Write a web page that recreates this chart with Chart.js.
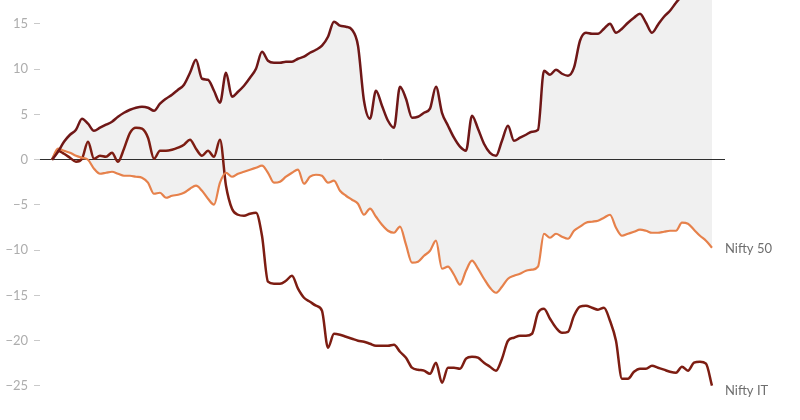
<!DOCTYPE html>
<html>
<head>
<meta charset="utf-8">
<script src="https://cdn.jsdelivr.net/npm/chart.js@4.4.1/dist/chart.umd.min.js"></script>
<style>
  html, body { margin: 0; padding: 0; background: #fff; }
  #wrap { width: 800px; height: 420px; position: relative; }
</style>
</head>
<body>
<div id="wrap"><canvas id="chart"></canvas></div>
<script>
// Trading sessions (index along the x axis)
const sessions = [
  0, 1, 2, 3, 4, 5, 6, 7, 8, 9, 10, 11, 12, 13, 14, 15, 16, 17, 18, 19,
  20, 21, 22, 23, 24, 25, 26, 27, 28, 29, 30, 31, 32, 33, 34, 35, 36, 37, 38, 39,
  40, 41, 42, 43, 44, 45, 46, 47, 48, 49, 50, 51, 52, 53, 54, 55, 56, 57, 58, 59,
  60, 61, 62, 63, 64, 65, 66, 67, 68, 69, 70, 71, 72, 73, 74, 75, 76, 77, 78, 79,
  80, 81, 82, 83, 84, 85, 86, 87, 88, 89, 90, 91, 92, 93, 94, 95, 96, 97, 98, 99,
  100, 101, 102, 103, 104, 105, 106, 107, 108, 109, 110
];

// Upper unlabelled line (% change)
const spread = [
  0, 0.88, 1.99, 2.76, 3.31, 4.53, 3.98, 3.20, 3.54, 3.87,
  4.20, 4.75, 5.19, 5.52, 5.75, 5.86, 5.75, 5.41, 6.19, 6.74,
  7.18, 7.73, 8.29, 9.61, 11.05, 8.95, 8.84, 7.62, 6.30, 9.61,
  6.96, 7.51, 8.18, 9.06, 10.06, 11.93, 10.94, 10.72, 10.72, 10.83,
  10.83, 11.16, 11.38, 11.82, 12.15, 12.60, 13.59, 15.25, 14.81, 14.70,
  14.36, 12.60, 6.52, 4.53, 7.62, 5.97, 4.31, 3.54, 8.07, 6.74,
  4.64, 4.75, 5.19, 5.64, 8.07, 5.19, 3.76, 2.43, 1.44, 0.99,
  4.86, 3.43, 1.77, 0.77, 0.44, 2.10, 3.76, 2.10, 2.43, 2.76,
  3.09, 3.31, 9.83, 9.39, 9.94, 9.50, 9.28, 10.17, 13.15, 14.03,
  13.92, 13.92, 14.48, 15.03, 14.03, 14.48, 15.14, 15.69, 16.13, 15.14,
  14.03, 14.92, 15.80, 16.46, 17.35, 18.12, 18.90, 19.56, 20.00, 20.30,
  20.55
];

const nifty50 = [
  0, 1.22, 0.99, 0.77, 0.44, 0.22, 0, -0.99, -1.55, -1.44,
  -1.33, -1.55, -1.77, -1.77, -1.88, -1.99, -2.54, -3.76, -3.65, -4.20,
  -3.98, -3.87, -3.65, -3.20, -2.87, -3.43, -4.31, -4.97, -2.54, -1.44,
  -1.88, -1.55, -1.33, -1.10, -0.88, -0.66, -1.44, -2.54, -2.43, -1.88,
  -1.44, -1.10, -2.65, -1.88, -1.66, -1.77, -2.54, -2.32, -3.43, -3.98,
  -4.42, -4.86, -6.08, -5.41, -6.30, -7.18, -7.85, -8.07, -7.40, -9.39,
  -11.38, -11.27, -10.61, -10.06, -8.95, -12.04, -11.82, -12.71, -13.81, -12.27,
  -11.16, -12.04, -13.15, -14.14, -14.70, -14.03, -13.15, -12.82, -12.60, -12.27,
  -12.15, -11.82, -8.18, -8.62, -8.18, -8.51, -8.73, -7.85, -7.40, -6.96,
  -6.85, -6.74, -6.41, -6.08, -7.51, -8.40, -8.18, -7.96, -7.73, -7.85,
  -8.07, -8.07, -7.96, -7.85, -7.85, -6.96, -7.07, -7.73, -8.40, -8.95,
  -9.72
];

const niftyIT = [
  0, 0.99, 0.66, 0.22, -0.22, 0.11, 1.99, 0.11, 0.44, 0.33,
  0.77, -0.22, 1.22, 2.98, 3.54, 3.43, 2.43, 0.11, 0.99, 0.99,
  1.10, 1.33, 1.66, 2.21, 1.22, 0.44, 0.99, 0.33, 2.21, -2.87,
  -5.41, -6.08, -6.19, -5.97, -5.86, -8.40, -13.48, -13.70, -13.70, -13.37,
  -12.82, -14.25, -15.25, -15.69, -16.13, -16.69, -20.77, -19.23, -19.34, -19.56,
  -19.78, -20.00, -20.11, -20.33, -20.55, -20.55, -20.55, -20.44, -21.22, -21.88,
  -22.98, -23.20, -23.31, -23.65, -22.43, -24.64, -22.98, -22.98, -23.09, -21.99,
  -21.77, -21.88, -22.43, -22.87, -23.31, -21.99, -20.00, -19.67, -19.45, -19.45,
  -19.23, -16.91, -16.46, -17.57, -18.56, -19.12, -19.01, -17.24, -16.24, -16.13,
  -16.35, -16.57, -16.35, -17.79, -20.00, -24.20, -24.20, -23.43, -23.09, -23.09,
  -22.76, -22.98, -23.20, -23.43, -23.54, -22.87, -23.31, -22.43, -22.32, -22.54,
  -24.97
];

const yTicks = [15, 10, 5, 0, -5, -10, -15, -20, -25];
const seriesNames = ['', 'Nifty 50', 'Nifty IT'];

// Write the series names just right of where each line ends
const endLabels = {
  id: 'endLabels',
  afterDatasetsDraw(chart) {
    const { ctx, chartArea } = chart;
    ctx.save();
    ctx.font = '13px Lato';
    ctx.fillStyle = '#6e6e6e';
    ctx.textBaseline = 'middle';
    [[1, 1], [2, 5]].forEach(([idx, nudge]) => {
      const pts = chart.getDatasetMeta(idx).data;
      const last = pts[pts.length - 1];
      ctx.fillText(seriesNames[idx], chartArea.right, last.y + nudge);
    });
    ctx.restore();
  }
};

const ctx = document.getElementById('chart').getContext('2d');
new Chart(ctx, {
  type: 'line',
  data: {
    labels: sessions,
    datasets: [
      {
        label: 'spread',
        data: spread,
        borderColor: '#6f1717',
        borderWidth: 2.5,
        backgroundColor: '#f0f0f0',
        fill: { target: 1 },
        pointRadius: 0,
        cubicInterpolationMode: 'monotone'
      },
      {
        label: seriesNames[1],
        data: nifty50,
        borderColor: '#e6814b',
        borderWidth: 2.2,
        fill: false,
        pointRadius: 0,
        cubicInterpolationMode: 'monotone'
      },
      {
        label: seriesNames[2],
        data: niftyIT,
        borderColor: '#7d1d12',
        borderWidth: 2.5,
        fill: false,
        pointRadius: 0,
        cubicInterpolationMode: 'monotone'
      }
    ]
  },
  options: {
    responsive: true,
    maintainAspectRatio: false,
    animation: false,
    layout: { autoPadding: false, padding: { left: 0, right: 75, top: 0, bottom: 0 } },
    plugins: {
      legend: { display: false },
      tooltip: { enabled: false },
      filler: { drawTime: 'beforeDraw' }
    },
    scales: {
      x: {
        type: 'linear',
        min: -2,
        max: 112.17,
        display: false
      },
      y: {
        min: -28.76,
        max: 17.65,
        afterBuildTicks: (scale) => {
          scale.ticks = yTicks.map(v => ({ value: v }));
        },
        afterFit: (scale) => {
          // ticks sit well inside the range, no need for label overhang room
          scale.width = 40;
          scale.paddingTop = 0;
          scale.paddingBottom = 0;
        },
        border: { display: false },
        grid: {
          color: (c) => (c.tick && c.tick.value === 0) ? '#2e2e2e' : 'rgba(0,0,0,0)',
          tickColor: '#c9c9c9',
          tickLength: 6,
          lineWidth: 1
        },
        ticks: {
          color: '#adadad',
          padding: 6,
          font: { family: 'Lato', size: 13 },
          callback: (v) => String(v).replace('-', '\u2212')
        }
      }
    }
  },
  plugins: [endLabels]
});
</script>
</body>
</html>
